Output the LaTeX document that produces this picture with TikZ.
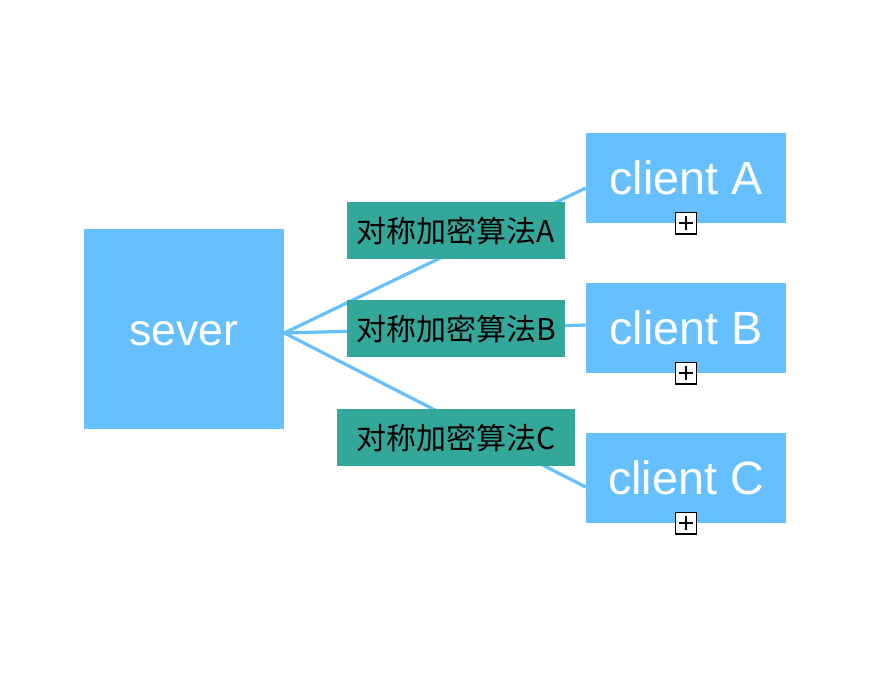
\documentclass[tikz,border=0pt]{standalone}
\usepackage{fontspec}
\setmainfont{Liberation Sans}
\newfontfamily\cjk{Noto Sans CJK SC}
\usetikzlibrary{calc,backgrounds}
\definecolor{nodeblue}{RGB}{102,191,255}
\definecolor{labelteal}{RGB}{51,168,154}
\tikzset{
  bluebox/.style={fill=nodeblue, draw=none, text=white, inner sep=0pt},
  tealbox/.style={fill=labelteal, draw=none, text=black, inner sep=0pt, minimum height=42.75pt, font=\cjk\fontsize{22.5}{26}\selectfont},
  plusbox/.style={fill=white, draw=black, line width=1pt, minimum size=16pt, inner sep=0pt},
  conn/.style={draw=nodeblue, line width=2.4pt},
  plusline/.style={draw=black, line width=1.2pt}
}
\begin{document}
\begin{tikzpicture}[x=0.75pt, y=-0.75pt]
\useasboundingbox (0,0) rectangle (870,676);
\node[bluebox, minimum width=150pt, minimum height=150pt, text height=25pt, text depth=0pt, font=\fontsize{33.5}{36}\selectfont] (sever) at (184,329) {sever};
\node[bluebox, minimum width=150pt, minimum height=67.5pt, font=\fontsize{35}{38}\selectfont] (cA) at (686,178) {client A};
\node[bluebox, minimum width=150pt, minimum height=67.5pt, font=\fontsize{35}{38}\selectfont] (cB) at (686,328) {client B};
\node[bluebox, minimum width=150pt, minimum height=67.5pt, font=\fontsize{35}{38}\selectfont] (cC) at (686,478) {client C};
\node[tealbox, minimum width=163.5pt] (lA) at (456,230.5) {对称加密算法A};
\node[tealbox, minimum width=163.5pt] (lB) at (456,328.5) {对称加密算法B};
\node[tealbox, minimum width=178.5pt] (lC) at (456,437.5) {对称加密算法C};
\foreach \c in {A,B,C}{
  \node[plusbox] (p\c) at (c\c.south) {};
  \draw[plusline] ($(p\c.center)+(-7,0)$) -- ($(p\c.center)+(7,0)$);
  \draw[plusline] ($(p\c.center)+(0,-7)$) -- ($(p\c.center)+(0,7)$);
}
\begin{scope}[on background layer]
  \coordinate (s) at ($(sever.east)+(0,4)$);
  \draw[conn] (s) -- ($(cA.west)+(0,10)$);
  \draw[conn] (s) -- ($(cB.west)+(0,-3)$);
  \draw[conn] (s) -- ($(cC.west)+(0,9)$);
\end{scope}
\end{tikzpicture}
\end{document}
